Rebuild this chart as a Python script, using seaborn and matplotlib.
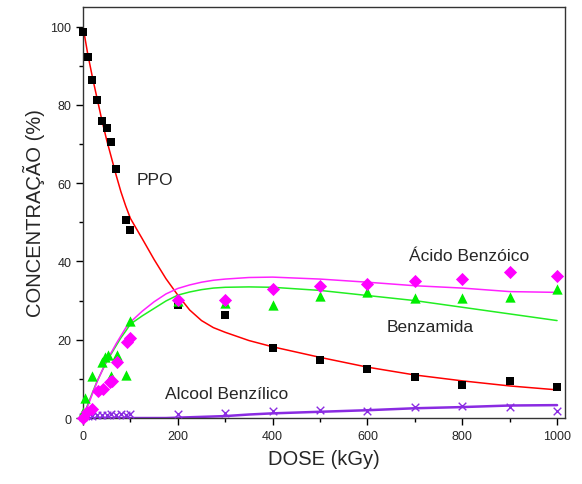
import numpy as np
import pandas as pd
import matplotlib
matplotlib.use('Agg')
import matplotlib.pyplot as plt
import seaborn as sns

# DATA
# measured points
ppo_dose = [0, 10, 20, 30, 40, 50, 60, 70, 90, 100, 200, 300, 400, 500, 600, 700, 800, 900, 1000]
ppo_conc = [98.6, 92.2, 86.4, 81.3, 76.0, 74.2, 70.5, 63.5, 50.7, 48.0, 28.9, 26.3, 17.8, 14.9, 12.4, 10.4, 8.5, 9.5, 7.9]

benzamida_dose = [0, 5, 20, 40, 47, 52, 60, 72, 90, 100, 200, 300, 400, 500, 600, 700, 800, 900, 1000]
benzamida_conc = [1.5, 5.0, 10.8, 14.2, 15.5, 16.1, 10.8, 16.1, 11.0, 24.9, 30.0, 29.5, 29.0, 31.3, 32.1, 30.6, 30.6, 30.9, 33.0]

acido_dose = [0, 8, 18, 32, 43, 57, 62, 72, 92, 100, 200, 300, 400, 500, 600, 700, 800, 900, 1000]
acido_conc = [0.0, 1.5, 2.3, 7.0, 7.4, 9.1, 9.5, 14.2, 19.4, 20.4, 30.2, 30.2, 33.0, 33.8, 34.3, 35.0, 35.5, 37.4, 36.4]

alcool_dose = [0, 10, 20, 30, 40, 50, 60, 70, 80, 90, 100, 200, 300, 400, 500, 600, 700, 800, 900, 1000]
alcool_conc = [0.2, 0.4, 0.6, 0.8, 0.7, 0.9, 1.0, 0.8, 1.0, 0.9, 1.0, 1.0, 1.4, 1.9, 2.0, 1.9, 2.7, 3.1, 2.7, 1.7]

# fitted curves
fit_dose = [0, 10, 20, 30, 40, 50, 60, 70, 80, 90, 100, 125, 150, 175, 200, 225, 250, 275, 300, 350,
            400, 500, 600, 700, 800, 900, 1000]
ppo_fit = [100, 93, 87, 81.5, 76, 71, 66.5, 62, 57.8, 54.2, 51.0, 45.8, 40.5, 35.6, 31.4, 27.6, 24.9, 23.1, 21.9, 19.8,
           18.2, 15.5, 13, 11, 9.5, 8.2, 7.2]
benzamida_fit = [0, 3.5, 6.5, 9.5, 12, 14.5, 16.5, 18.5, 20.5, 22.2, 24.0, 26.1, 28.0, 29.9, 31.4, 32.2, 32.8, 33.2, 33.4, 33.5,
                 33.4, 32.6, 31.3, 30.0, 28.3, 26.6, 24.9]
acido_fit = [0, 3, 6.2, 9.3, 12, 14.6, 16.8, 19, 21, 23, 24.5, 27.3, 29.7, 31.7, 33.1, 34.0, 34.7, 35.2, 35.5, 35.9,
             36.0, 35.5, 34.7, 33.8, 33.2, 32.3, 32.1]
alcool_fit = [0, 0, 0, 0, 0, 0, 0, 0, 0, 0, 0, 0, 0, 0, 0.1, 0.2, 0.3, 0.4, 0.5, 0.9,
              1.2, 1.6, 2.0, 2.5, 2.8, 3.2, 3.3]

sns.set_theme(style='ticks')
plt.rcParams['font.family'] = ['Liberation Sans', 'DejaVu Sans']

fig = plt.figure(figsize=(5.82, 4.85), dpi=100)
ax = fig.add_axes([0.1426, 0.136, 0.8284, 0.8475])

fits = pd.DataFrame({
    'dose': fit_dose,
    'ppo': ppo_fit,
    'benzamida': benzamida_fit,
    'acido': acido_fit,
    'alcool': alcool_fit,
})

sns.lineplot(data=fits, x='dose', y='ppo', color='#ff0000', lw=1.1, ax=ax)
sns.lineplot(data=fits, x='dose', y='benzamida', color='#22ee22', lw=1.1, ax=ax)
sns.lineplot(data=fits, x='dose', y='acido', color='#ff22ff', lw=1.1, ax=ax)
sns.lineplot(data=fits, x='dose', y='alcool', color='#8a2be2', lw=1.8, ax=ax)

sns.scatterplot(x=alcool_dose, y=alcool_conc, marker='x', color='#8a2be2', s=30, linewidth=1.0, ax=ax, clip_on=False, zorder=5)
sns.scatterplot(x=ppo_dose, y=ppo_conc, marker='s', color='black', s=38, linewidth=0, ax=ax, clip_on=False, zorder=5)
sns.scatterplot(x=benzamida_dose, y=benzamida_conc, marker='^', color='#00ee00', s=55, linewidth=0, ax=ax, clip_on=False, zorder=6)
sns.scatterplot(x=acido_dose, y=acido_conc, marker='D', color='#ff00ff', s=45, linewidth=0, ax=ax, clip_on=False, zorder=7)

# labels next to curves
ax.text(114, 61, 'PPO', fontsize=12.5, va='center', ha='left')
ax.text(814, 41.5, 'Ácido Benzóico', fontsize=12.5, va='center', ha='center')
ax.text(732, 23.3, 'Benzamida', fontsize=12.5, va='center', ha='center')
ax.text(303, 6.2, 'Alcool Benzílico', fontsize=12.5, va='center', ha='center')

ax.set_xlim(0, 1017)
ax.set_ylim(0, 105)
ax.set_xticks([0, 200, 400, 600, 800, 1000])
ax.set_xticks([100, 300, 500, 700, 900], minor=True)
ax.set_yticks([0, 20, 40, 60, 80, 100])
ax.set_yticks([10, 30, 50, 70, 90], minor=True)
ax.tick_params(axis='both', which='major', length=5, width=1, labelsize=9, direction='out', color='black')
ax.tick_params(axis='both', which='minor', length=3, width=1, direction='out', color='black')
ax.set_xlabel('DOSE (kGy)', fontsize=14.5, labelpad=5)
ax.set_ylabel('CONCENTRAÇÃO (%)', fontsize=14.5, labelpad=4)
for sp in ax.spines.values():
    sp.set_color('#333333')
    sp.set_linewidth(1.0)

plt.savefig('out.png', dpi=100)
